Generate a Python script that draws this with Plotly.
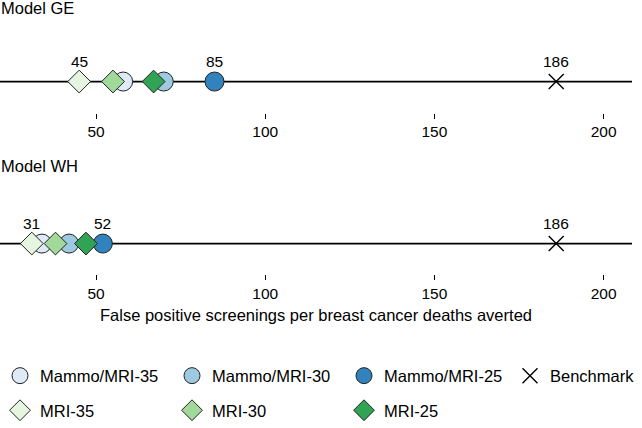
import plotly.graph_objects as go
from plotly.subplots import make_subplots

models = ["Model GE", "Model WH"]
strategies = ["Mammo/MRI-35", "Mammo/MRI-30", "Mammo/MRI-25", "Benchmark",
              "MRI-35", "MRI-30", "MRI-25"]
ge_values = [58, 70, 85, 186, 45, 55, 67]
wh_values = [34, 42, 52, 186, 31, 38, 47]
colors = ["#deebf7", "#9ecae1", "#3182bd", "#000000", "#e5f5e0", "#a1d99b", "#31a354"]
symbols = ["circle", "circle", "circle", "x-thin", "diamond", "diamond", "diamond"]
legend_ids = ["legend", "legend", "legend", "legend3", "legend2", "legend2", "legend2"]
tick_vals = [50, 100, 150, 200]
x_title = "False positive screenings per breast cancer deaths averted"

FONT = "Arial, 'Liberation Sans', sans-serif"
W, H = 642, 428

fig = make_subplots(rows=2, cols=1)

for row, vals in enumerate([ge_values, wh_values], start=1):
    sfx = "" if row == 1 else str(row)
    for i, (name, v) in enumerate(zip(strategies, vals)):
        sym = symbols[i]
        if sym == "x-thin":
            marker = dict(symbol="x-thin", size=15, color="#000000",
                          line=dict(color="#000000", width=1.4))
        elif sym == "circle":
            marker = dict(symbol="circle", size=19, color=colors[i],
                          line=dict(color="#222222", width=1))
        else:
            marker = dict(symbol="diamond", size=17.5, color=colors[i],
                          line=dict(color="#222222", width=1))
        fig.add_trace(go.Scatter(
            x=[v], y=[0], mode="markers", name=name, marker=marker,
            legendgroup=name, showlegend=(row == 1), legend=legend_ids[i],
            hoverinfo="x+name"), row=row, col=1)
    # labels: min and max of the strategies plus benchmark
    strat = [v for v, s in zip(vals, strategies) if s != "Benchmark"]
    bench = vals[strategies.index("Benchmark")]
    for lv in [min(strat), max(strat), bench]:
        fig.add_annotation(x=lv, y=0, xref=f"x{sfx}", yref=f"y{sfx}",
                           text=str(lv), showarrow=False, yshift=20,
                           font=dict(size=15.5, color="#000000", family=FONT))
    fig.add_shape(type="line", xref=f"x{sfx} domain", yref=f"y{sfx}",
                  x0=0, x1=1, y0=0, y1=0, line=dict(color="#000000", width=1.8),
                  layer="below")

xrange = [21.6, 208.4]
axis_common = dict(range=xrange, tickvals=tick_vals, ticks="outside", ticklen=5,
                   tickwidth=1, tickcolor="#000000", showline=False, showgrid=False,
                   zeroline=False, automargin=False,
                   tickfont=dict(size=15.5, color="#000000", family=FONT))
fig.update_xaxes(**axis_common)
fig.update_yaxes(range=[-1, 1], visible=False, showgrid=False, zeroline=False)

leg_common = dict(orientation="h", xanchor="left", yanchor="middle",
                  font=dict(size=16.5, family=FONT, color="#000000"),
                  bgcolor="rgba(0,0,0,0)")

fig.update_layout(
    width=W, height=H,
    margin=dict(l=0, r=10, t=0, b=0),
    paper_bgcolor="#ffffff", plot_bgcolor="#ffffff",
    font=dict(family=FONT, size=16, color="#000000"),
    xaxis=dict(domain=[0, 1]),
    xaxis2=dict(domain=[0, 1], title=dict(text=x_title, standoff=8,
                                          font=dict(size=16.5, family=FONT))),
    yaxis=dict(domain=[1 - 115 / H, 1 - 51.6 / H]),
    yaxis2=dict(domain=[1 - 280 / H, 1 - 217.6 / H]),
    legend=dict(x=0, y=1 - 384 / H, entrywidth=127, **leg_common),
    legend3=dict(x=510 / 632, y=1 - 384 / H, **leg_common),
    legend2=dict(x=0, y=1 - 419.5 / H, entrywidth=127, **leg_common),
    showlegend=True,
)

fig.add_annotation(x=-0.002, y=1 - 8 / H, xref="paper", yref="paper", text=models[0],
                   showarrow=False, xanchor="left", yanchor="middle",
                   font=dict(size=16.5, family=FONT, color="#000000"))
fig.add_annotation(x=-0.002, y=1 - 170 / H, xref="paper", yref="paper", text=models[1],
                   showarrow=False, xanchor="left", yanchor="middle",
                   font=dict(size=16.5, family=FONT, color="#000000"))

fig.write_html("out.html", config={"displayModeBar": False},
               post_script="document.body.style.margin='0';document.body.style.padding='0';")
